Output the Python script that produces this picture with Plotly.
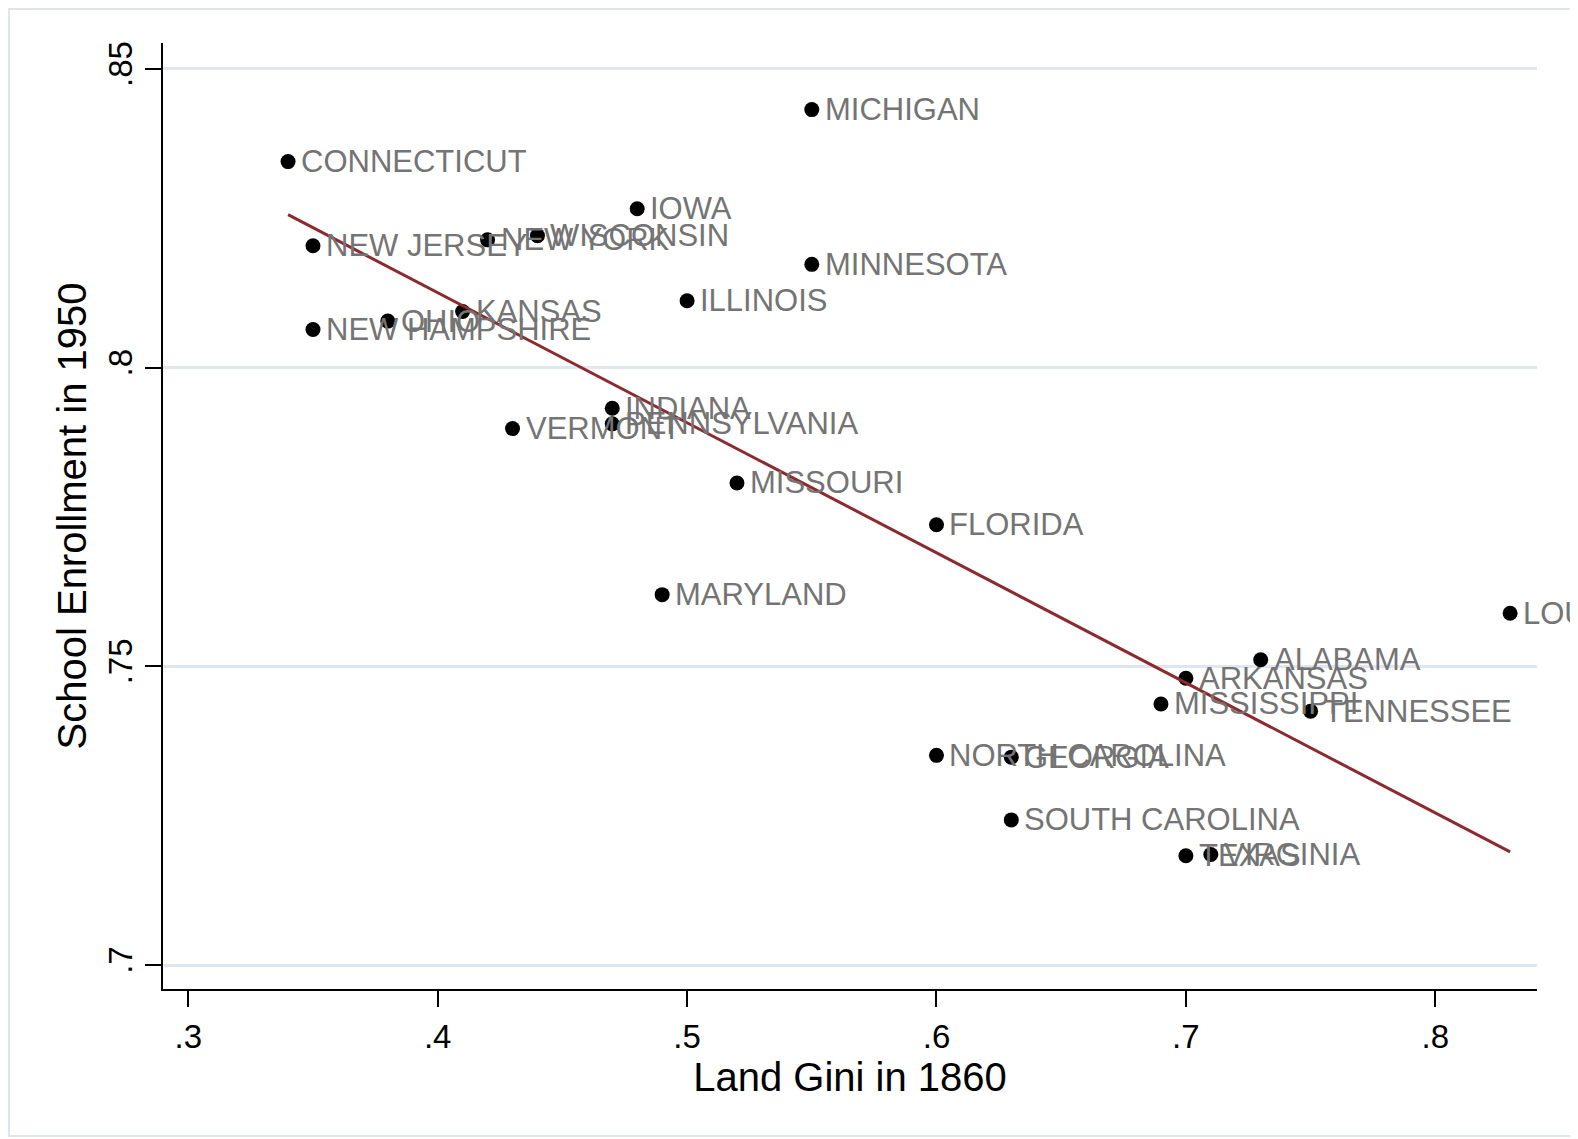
import numpy as np
import plotly.graph_objects as go

# ---- data ----
states = ["CONNECTICUT", "MICHIGAN", "IOWA", "NEW JERSEY", "NEW YORK", "WISCONSIN",
          "MINNESOTA", "ILLINOIS", "KANSAS", "OHIO", "NEW HAMPSHIRE", "INDIANA",
          "PENNSYLVANIA", "VERMONT", "MISSOURI", "FLORIDA", "MARYLAND", "LOUISIANA",
          "ALABAMA", "ARKANSAS", "MISSISSIPPI", "TENNESSEE", "NORTH CAROLINA",
          "GEORGIA", "SOUTH CAROLINA", "TEXAS", "VIRGINIA"]
land_gini_1860 = [0.34, 0.55, 0.48, 0.35, 0.42, 0.44,
                  0.55, 0.50, 0.41, 0.38, 0.35, 0.47,
                  0.47, 0.43, 0.52, 0.60, 0.49, 0.83,
                  0.73, 0.70, 0.69, 0.75, 0.60,
                  0.63, 0.63, 0.70, 0.71]
enroll_1950 = [0.8345, 0.8432, 0.8266, 0.8204, 0.8214, 0.8221,
               0.8173, 0.8112, 0.8094, 0.8078, 0.8064, 0.7932,
               0.7906, 0.7898, 0.7807, 0.7737, 0.7620, 0.7589,
               0.7511, 0.7480, 0.7437, 0.7425, 0.7351,
               0.7348, 0.7243, 0.7183, 0.7185]

x_ticks = [0.3, 0.4, 0.5, 0.6, 0.7, 0.8]
x_tick_labels = [".3", ".4", ".5", ".6", ".7", ".8"]
y_ticks = [0.7, 0.75, 0.8, 0.85]
y_tick_labels = [".7", ".75", ".8", ".85"]

x_title = "Land Gini in 1860"
y_title = "School Enrollment in 1950"

# ---- linear fit (computed from the data) ----
xa = np.array(land_gini_1860)
ya = np.array(enroll_1950)
slope, intercept = np.polyfit(xa, ya, 1)
fit_x = np.array([xa.min(), xa.max()])
fit_y = intercept + slope * fit_x

FONT = "Liberation Sans, Arial, Helvetica, sans-serif"

# figure is drawn 8px in from the page corner (body margin)
L, T, PW, PH = 155, 35, 1374, 946

fig = go.Figure()
fig.add_trace(go.Scatter(
    x=land_gini_1860, y=enroll_1950, text=states,
    mode="markers",
    marker=dict(size=15, color="black", line=dict(width=0)),
    showlegend=False, hoverinfo="x+y+text",
))
fig.add_trace(go.Scatter(
    x=fit_x, y=fit_y, mode="lines",
    line=dict(color="#8c2a30", width=3),
    showlegend=False, hoverinfo="skip",
))

label_annotations = [
    dict(x=gx, y=ey, xref="x", yref="y", text=name, showarrow=False,
         xanchor="left", yanchor="middle", xshift=11, yshift=0,
         font=dict(family=FONT, size=31, color="#747474"))
    for name, gx, ey in zip(states, land_gini_1860, enroll_1950)
]

fig.update_layout(
    width=1578, height=1139,
    margin=dict(l=L, r=1578 - L - PW, t=T, b=1139 - T - PH),
    paper_bgcolor="white", plot_bgcolor="white",
    font=dict(family=FONT, color="black"),
    xaxis=dict(
        range=[0.28986, 0.84078], tickvals=x_ticks, ticktext=x_tick_labels,
        showgrid=False, zeroline=False, showline=True, linecolor="black", linewidth=2,
        ticks="outside", ticklen=16, tickwidth=2, tickcolor="black",
        tickfont=dict(family=FONT, size=33, color="black"),
        ticklabelstandoff=1,
        title=dict(text=x_title, font=dict(family=FONT, size=40, color="black"), standoff=2),
    ),
    yaxis=dict(
        range=[0.69599, 0.85435], tickvals=y_ticks, ticktext=y_tick_labels,
        showgrid=True, gridcolor="#e0e6ef", gridwidth=3,
        zeroline=False, showline=True, linecolor="black", linewidth=2,
        ticks="outside", ticklen=16, tickwidth=2, tickcolor="black",
        tickangle=-90,
        tickfont=dict(family=FONT, size=33, color="black"),
        ticklabelstandoff=0,
        title=dict(text=y_title, font=dict(family=FONT, size=40, color="black"), standoff=3),
    ),
    annotations=label_annotations,
    shapes=[dict(
        type="rect", xref="paper", yref="paper",
        x0=(1 - L) / PW, x1=(1567 - L) / PW,
        y0=(T + PH - 1128) / PH, y1=(T + PH - 1) / PH,
        line=dict(color="#dfe5f0", width=2), fillcolor="rgba(0,0,0,0)", layer="below",
    )],
)

fig.write_html("out.html")
